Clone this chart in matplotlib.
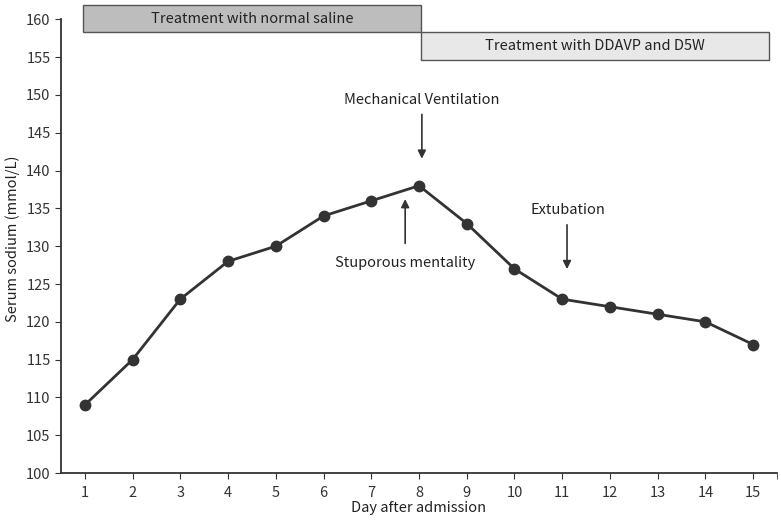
import matplotlib
matplotlib.use("Agg")
import matplotlib.pyplot as plt
from matplotlib.patches import Rectangle

plt.rcParams['font.family'] = ['Noto Sans CJK KR', 'DejaVu Sans']

days = [1, 2, 3, 4, 5, 6, 7, 8, 9, 10, 11, 12, 13, 14, 15]
sodium = [109, 115, 123, 128, 130, 134, 136, 138, 133, 127, 123, 122, 121, 120, 117]

fig = plt.figure(figsize=(7.81, 5.28), dpi=100)
ax = fig.add_axes([0.078, 0.104, 0.917, 0.888])

ax.plot(days, sodium, "-o", color="#333333", lw=2, ms=7.5, zorder=3)

ax.set_xlim(0.5, 15.5)
ax.set_ylim(100, 162)
ax.set_xticks(days)
ax.set_xticks([15.5], minor=True)
ax.set_yticks(range(100, 161, 5))
ax.tick_params(labelsize=10.5, colors="#333333", length=4)
ax.tick_params(axis="x", pad=5)
ax.tick_params(axis="x", which="minor", length=4, color="#333333")
for s in ["top", "right"]:
    ax.spines[s].set_visible(False)
ax.spines["left"].set_bounds(100, 160)
for s in ["left", "bottom"]:
    ax.spines[s].set_color("#333333")
    ax.spines[s].set_linewidth(1.3)
ax.set_xlabel("Day after admission", fontsize=10.5, color="#222222", labelpad=1)
ax.set_ylabel("Serum sodium (mmol/L)", fontsize=10.5, color="#222222", labelpad=4)

# treatment bars
ax.add_patch(Rectangle((0.96, 158.3), 8.04 - 0.96, 3.55, facecolor="#bdbdbd",
                       edgecolor="#555555", lw=1, clip_on=False, zorder=2))
ax.text((0.96 + 8.04) / 2, 160.05, "Treatment with normal saline", ha="center", va="center",
        fontsize=10.5, color="#222222")
ax.add_patch(Rectangle((8.04, 154.6), 15.32 - 8.04, 3.7, facecolor="#e8e8e8",
                       edgecolor="#555555", lw=1, clip_on=False, zorder=2))
ax.text((8.04 + 15.32) / 2, 156.45, "Treatment with DDAVP and D5W", ha="center", va="center",
        fontsize=10.5, color="#222222")

# annotations
arrow = dict(arrowstyle="-|>", color="#333333", lw=1.2, mutation_scale=12)
ax.text(8.06, 149.3, "Mechanical Ventilation", ha="center", va="center", fontsize=10.5, color="#222222")
ax.annotate("", xy=(8.06, 141.2), xytext=(8.06, 147.8), arrowprops=arrow)
ax.text(7.71, 127.8, "Stuporous mentality", ha="center", va="center", fontsize=10.5, color="#222222")
ax.annotate("", xy=(7.71, 136.6), xytext=(7.71, 130.0), arrowprops=arrow)
ax.text(11.12, 134.8, "Extubation", ha="center", va="center", fontsize=10.5, color="#222222")
ax.annotate("", xy=(11.1, 126.6), xytext=(11.1, 133.2), arrowprops=arrow)

fig.savefig("out.png", dpi=100)
